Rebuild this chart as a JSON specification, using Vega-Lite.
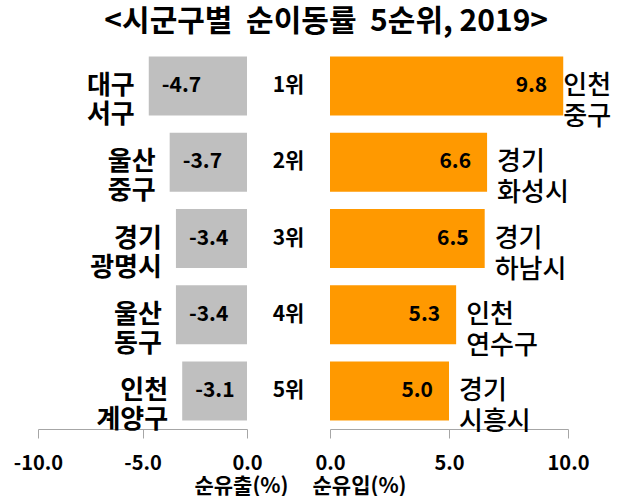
{
  "$schema": "https://vega.github.io/schema/vega-lite/v6.json",
  "padding": {"left": 13, "top": 7, "right": 0, "bottom": 0},
  "background": "white",
  "bounds": "flush",
  "config": {
    "view": {"stroke": null},
    "font": "Noto Sans CJK KR",
    "locale": {"number": {"decimal": ".", "thousands": ",", "grouping": [3], "currency": ["", ""], "minus": "-"}},
    "text": {"font": "Noto Sans CJK KR", "color": "black"},
    "axis": {"labelFont": "Noto Sans CJK KR", "titleFont": "Noto Sans CJK KR"}
  },
  "title": {
    "text": "<시군구별\u00a0\u00a0순이동률\u00a0\u00a05순위, 2019>",
    "font": "Noto Sans CJK KR",
    "fontSize": 30,
    "fontWeight": "bold",
    "color": "black",
    "anchor": "middle",
    "offset": 11,
    "dx": 14
  },
  "data": {
    "values": [
      {"rank": 1, "rankLabel": "1위", "outRegion": "대구\n서구", "out": -4.7, "inRegion": "인천\n중구", "in": 9.8},
      {"rank": 2, "rankLabel": "2위", "outRegion": "울산\n중구", "out": -3.7, "inRegion": "경기\n화성시", "in": 6.6},
      {"rank": 3, "rankLabel": "3위", "outRegion": "경기\n광명시", "out": -3.4, "inRegion": "경기\n하남시", "in": 6.5},
      {"rank": 4, "rankLabel": "4위", "outRegion": "울산\n동구", "out": -3.4, "inRegion": "인천\n연수구", "in": 5.3},
      {"rank": 5, "rankLabel": "5위", "outRegion": "인천\n계양구", "out": -3.1, "inRegion": "경기\n시흥시", "in": 5.0}
    ]
  },
  "spacing": 0,
  "resolve": {"scale": {"x": "independent"}},
  "hconcat": [
    {
      "width": 209,
      "height": 381,
      "encoding": {
        "y": {"field": "rank", "type": "ordinal", "axis": null,
              "scale": {"paddingInner": 0.226, "paddingOuter": 0.113}},
        "x": {"field": "out", "type": "quantitative",
              "scale": {"domain": [-10, 0], "nice": false, "zero": false},
              "axis": {
                "values": [-10, -5, 0], "format": ".1f", "grid": false,
                "labelFontSize": 20, "labelFontWeight": "bold", "labelColor": "black",
                "labelFlush": false, "labelPadding": 15,
                "domainColor": "#a6a6a6", "tickColor": "#a6a6a6", "tickSize": 9,
                "title": "순유출(%)", "titleFontSize": 21, "titleFontWeight": "bold",
                "titleColor": "black", "titleAlign": "right", "titleX": 250,
                "titleY": 57, "titleBaseline": "middle"
              }}
      },
      "layer": [
        {"mark": {"type": "bar", "color": "#bfbfbf"}, "encoding": {"x2": {"datum": 0}}},
        {"mark": {"type": "text", "align": "left", "baseline": "middle", "dx": 13,
                  "fontSize": 21, "fontWeight": "bold"},
         "encoding": {"text": {"field": "out", "type": "quantitative", "format": ".1f"}}},
        {"mark": {"type": "text", "align": "right", "baseline": "middle", "dx": -14,
                  "fontSize": 26, "fontWeight": "bold", "lineBreak": "\n", "lineHeight": 29},
         "encoding": {"text": {"field": "outRegion"}}}
      ]
    },
    {
      "width": 83,
      "height": 381,
      "mark": {"type": "text", "align": "center", "baseline": "middle",
               "fontSize": 21, "fontWeight": "bold"},
      "encoding": {
        "y": {"field": "rank", "type": "ordinal", "axis": null,
              "scale": {"paddingInner": 0.226, "paddingOuter": 0.113}},
        "text": {"field": "rankLabel"}
      }
    },
    {
      "width": 238,
      "height": 381,
      "encoding": {
        "y": {"field": "rank", "type": "ordinal", "axis": null,
              "scale": {"paddingInner": 0.226, "paddingOuter": 0.113}},
        "x": {"field": "in", "type": "quantitative",
              "scale": {"domain": [0, 10], "nice": false},
              "axis": {
                "values": [0, 5, 10], "format": ".1f", "grid": false,
                "labelFontSize": 20, "labelFontWeight": "bold", "labelColor": "black",
                "labelFlush": false, "labelPadding": 15,
                "domainColor": "#a6a6a6", "tickColor": "#a6a6a6", "tickSize": 9,
                "title": "순유입(%)", "titleFontSize": 21, "titleFontWeight": "bold",
                "titleColor": "black", "titleAlign": "left", "titleX": -18,
                "titleY": 57, "titleBaseline": "middle"
              }}
      },
      "layer": [
        {"mark": {"type": "bar", "color": "#ff9900"}, "encoding": {"x2": {"datum": 0}}},
        {"mark": {"type": "text", "align": "right", "baseline": "middle", "dx": -16,
                  "fontSize": 21, "fontWeight": "bold"},
         "encoding": {"text": {"field": "in", "type": "quantitative", "format": ".1f"}}},
        {"transform": [{"filter": "datum.rank == 1"}],
         "mark": {"type": "text", "align": "left", "baseline": "middle", "dx": 0,
                  "fontSize": 26, "fontWeight": 500, "lineBreak": "\n", "lineHeight": 31},
         "encoding": {"text": {"field": "inRegion"}}},
        {"transform": [{"filter": "datum.rank != 1"}],
         "mark": {"type": "text", "align": "left", "baseline": "middle", "dx": 10,
                  "fontSize": 26, "fontWeight": 500, "lineBreak": "\n", "lineHeight": 31},
         "encoding": {"text": {"field": "inRegion"}}}
      ]
    }
  ]
}
